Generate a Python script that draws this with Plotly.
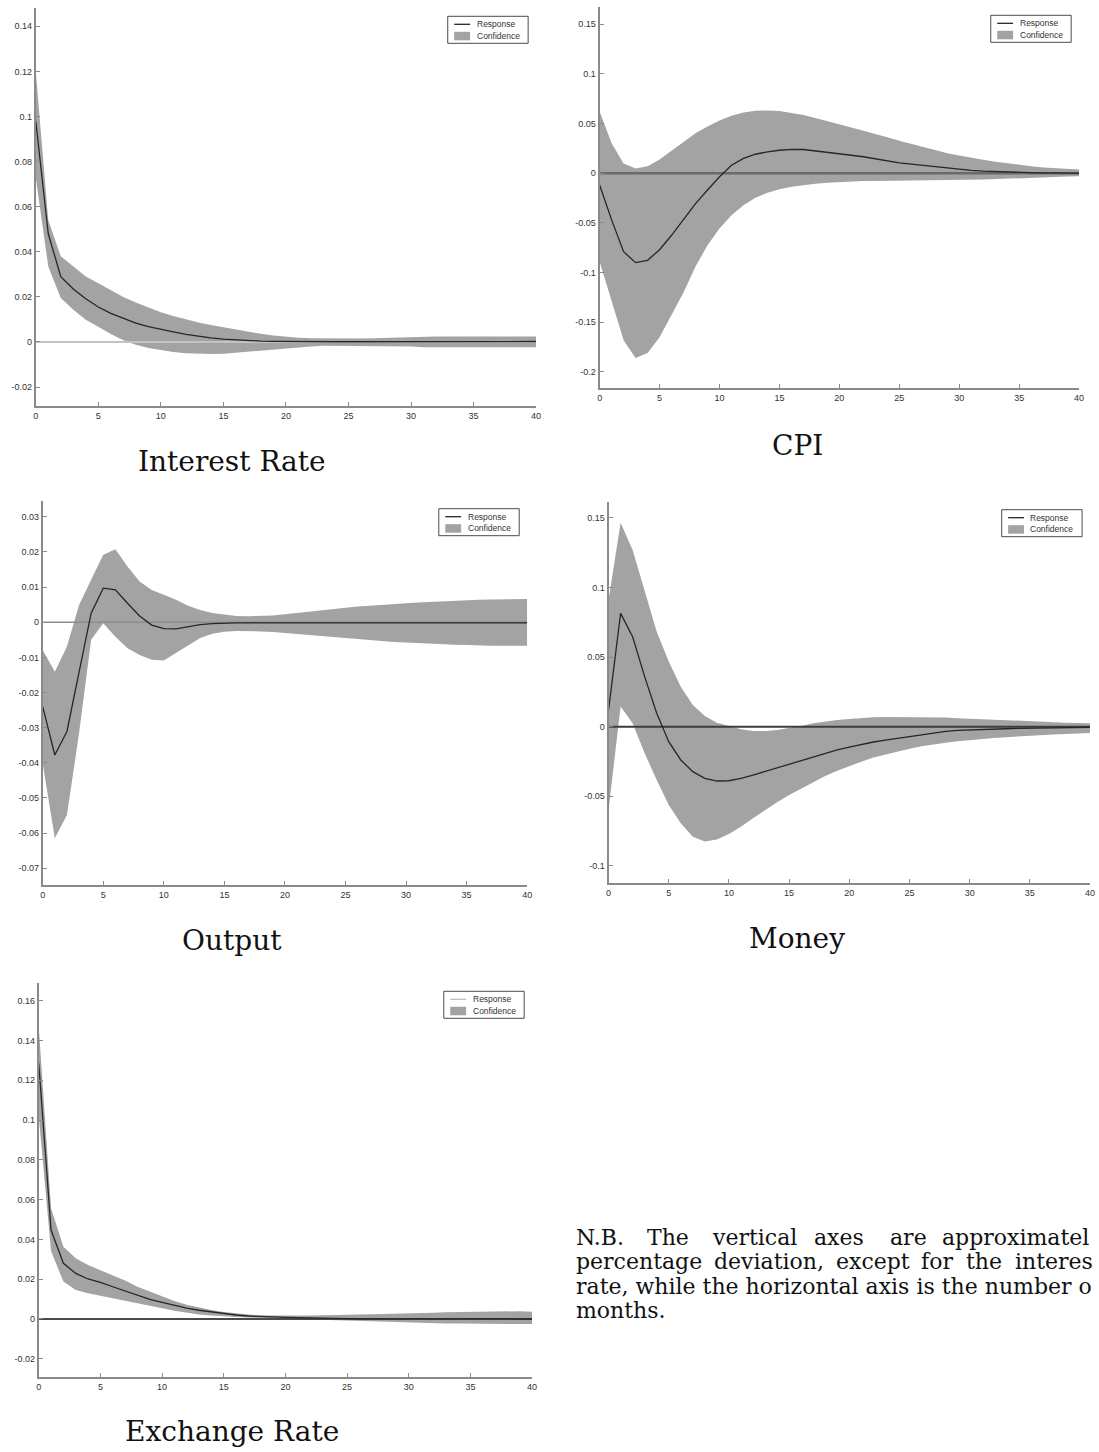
import plotly.graph_objects as go

W, H = 1099, 1452

# ---------------- data ----------------
months = list(range(41))
x_tick_vals = [0, 5, 10, 15, 20, 25, 30, 35, 40]
x_tick_text = ["0", "5", "10", "15", "20", "25", "30", "35", "40"]

# Interest Rate
ir_resp = [0.098, 0.048, 0.029, 0.0235, 0.0192, 0.0155, 0.0127, 0.0104, 0.0084, 0.0068,
           0.0058, 0.0045, 0.0034, 0.0025, 0.0018, 0.0013, 0.0009, 0.0006, 0.0004, 0.0003,
           0.0002, 0.0001, 0.0001, 0.0001, 0.0001, 0.0001, 0.0001, 0.0001, 0.0001, 0.0001,
           0.0002, 0.0002, 0.0002, 0.0002, 0.0002, 0.0002, 0.0002, 0.0002, 0.0002, 0.0002, 0.0002]
ir_upper = [0.120, 0.054, 0.038, 0.0335, 0.029, 0.026, 0.023, 0.020, 0.0175, 0.0152,
            0.0132, 0.0115, 0.0099, 0.0086, 0.0075, 0.0065, 0.0055, 0.0045, 0.0036, 0.0029,
            0.0023, 0.0019, 0.0016, 0.0015, 0.0015, 0.0015, 0.0015, 0.0016, 0.0018, 0.0019,
            0.0021, 0.0024, 0.0024, 0.0024, 0.0024, 0.0024, 0.0024, 0.0024, 0.0024, 0.0024, 0.0024]
ir_lower = [0.073, 0.0335, 0.0195, 0.0143, 0.0099, 0.0068, 0.0035, 0.0008, -0.0012, -0.0027,
            -0.0037, -0.0045, -0.005, -0.0052, -0.0053, -0.0052, -0.0047, -0.0042, -0.0037, -0.0033,
            -0.003, -0.0025, -0.002, -0.0017, -0.0017, -0.0017, -0.0017, -0.0017, -0.0018, -0.0018,
            -0.002, -0.0023, -0.0023, -0.0023, -0.0023, -0.0023, -0.0023, -0.0023, -0.0023, -0.0023, -0.0023]
ir_y_ticks = [-0.02, 0, 0.02, 0.04, 0.06, 0.08, 0.1, 0.12, 0.14]
ir_y_text = ["-0.02", "0", "0.02", "0.04", "0.06", "0.08", "0.1", "0.12", "0.14"]

# CPI
cpi_resp = [-0.012, -0.047, -0.079, -0.090, -0.0877, -0.077, -0.0625, -0.047, -0.0306, -0.017,
            -0.0037, 0.008, 0.0148, 0.019, 0.0215, 0.023, 0.024, 0.0238, 0.0225, 0.021,
            0.0195, 0.018, 0.0165, 0.0144, 0.0124, 0.0104, 0.009, 0.0077, 0.006, 0.0047,
            0.0037, 0.0027, 0.002, 0.0015, 0.001, 0.0007, 0.0005, 0.0003, 0.0002, 0.0001, 0.0]
cpi_upper = [0.062, 0.030, 0.0097, 0.0047, 0.007, 0.0138, 0.0225, 0.0316, 0.040, 0.047,
             0.053, 0.0578, 0.061, 0.0628, 0.0631, 0.0625, 0.0608, 0.0584, 0.0554, 0.0524,
             0.049, 0.046, 0.0426, 0.0396, 0.036, 0.0326, 0.0292, 0.0262, 0.0232, 0.0201,
             0.0178, 0.0154, 0.0134, 0.0114, 0.0097, 0.008, 0.007, 0.0057, 0.005, 0.004, 0.0037]
cpi_lower = [-0.089, -0.128, -0.168, -0.186, -0.181, -0.165, -0.143, -0.120, -0.094, -0.0725,
             -0.0557, -0.0423, -0.0322, -0.0248, -0.0198, -0.0161, -0.0138, -0.0121, -0.0107, -0.0097,
             -0.009, -0.0084, -0.008, -0.0078, -0.0077, -0.0077, -0.0076, -0.0075, -0.0074, -0.0072,
             -0.007, -0.0067, -0.0064, -0.006, -0.0057, -0.0052, -0.0047, -0.0043, -0.004, -0.0035, -0.003]
cpi_y_ticks = [-0.2, -0.15, -0.1, -0.05, 0, 0.05, 0.1, 0.15]
cpi_y_text = ["-0.2", "-0.15", "-0.1", "-0.05", "0", "0.05", "0.1", "0.15"]

# Output
out_resp = [-0.024, -0.0378, -0.0311, -0.0145, 0.0026, 0.0097, 0.0092, 0.0054, 0.0018, -0.0008,
            -0.0018, -0.0019, -0.0012, -0.0007, -0.0004, -0.0002, -0.0002, -0.0002, -0.0002, -0.0002,
            -0.0002, -0.0002, -0.0002, -0.0002, -0.0002, -0.0002, -0.0002, -0.0002, -0.0002, -0.0002,
            -0.0002, -0.0002, -0.0002, -0.0002, -0.0002, -0.0002, -0.0002, -0.0002, -0.0002, -0.0002, -0.0002]
out_upper = [-0.0079, -0.0141, -0.0069, 0.0049, 0.0121, 0.0192, 0.0208, 0.0159, 0.0116, 0.0092,
             0.0078, 0.0064, 0.0047, 0.0035, 0.0026, 0.0021, 0.0018, 0.0017, 0.0017, 0.0019,
             0.0023, 0.0027, 0.003, 0.0034, 0.0038, 0.0041, 0.0045, 0.0047, 0.005, 0.0052,
             0.0054, 0.0056, 0.0058, 0.0059, 0.006, 0.0062, 0.0064, 0.0065, 0.0066, 0.0066, 0.0066]
out_lower = [-0.0402, -0.0615, -0.0549, -0.0316, -0.005, -0.0003, -0.0041, -0.0074, -0.0093, -0.0107,
             -0.0109, -0.0088, -0.0065, -0.0045, -0.0033, -0.0027, -0.0025, -0.0025, -0.0026, -0.0028,
             -0.0031, -0.0034, -0.0037, -0.004, -0.0043, -0.0046, -0.0048, -0.0051, -0.0053, -0.0056,
             -0.0058, -0.006, -0.0061, -0.0063, -0.0064, -0.0065, -0.0067, -0.0067, -0.0067, -0.0067, -0.0067]
out_y_ticks = [-0.07, -0.06, -0.05, -0.04, -0.03, -0.02, -0.01, 0, 0.01, 0.02, 0.03]
out_y_text = ["-0.07", "-0.06", "-0.05", "-0.04", "-0.03", "-0.02", "-0.01", "0", "0.01", "0.02", "0.03"]

# Money
m_resp = [0.012, 0.0813, 0.0646, 0.0359, 0.0096, -0.0108, -0.0239, -0.0323, -0.0371, -0.039,
          -0.0388, -0.0371, -0.0347, -0.0321, -0.0294, -0.0268, -0.0242, -0.0215, -0.0191, -0.0167,
          -0.0146, -0.0127, -0.011, -0.0096, -0.0084, -0.0069, -0.0055, -0.0043, -0.0033, -0.0026,
          -0.0022, -0.002, -0.0017, -0.0015, -0.0012, -0.0011, -0.001, -0.0008, -0.0007, -0.0006, -0.0005]
m_upper = [0.091, 0.1464, 0.1268, 0.0981, 0.0682, 0.0467, 0.0287, 0.0156, 0.0077, 0.0029,
           0.0005, -0.0019, -0.0031, -0.0031, -0.0024, -0.0012, 0.0005, 0.0024, 0.0038, 0.0048,
           0.0055, 0.0062, 0.0067, 0.0069, 0.0069, 0.0069, 0.0069, 0.0067, 0.0065, 0.0061,
           0.0057, 0.0054, 0.005, 0.0045, 0.0041, 0.0037, 0.0033, 0.0031, 0.0029, 0.0027, 0.0024]
m_lower = [-0.0598, 0.0144, 0.0024, -0.0191, -0.0383, -0.0562, -0.0694, -0.079, -0.0825, -0.0809,
           -0.077, -0.0718, -0.0658, -0.0598, -0.0543, -0.049, -0.0443, -0.0395, -0.0354, -0.0316,
           -0.0282, -0.0251, -0.0222, -0.0199, -0.0177, -0.0158, -0.0141, -0.0127, -0.0115, -0.0105,
           -0.0096, -0.0088, -0.0081, -0.0075, -0.0069, -0.0064, -0.006, -0.0056, -0.0053, -0.0049, -0.0045]
m_y_ticks = [-0.1, -0.05, 0, 0.05, 0.1, 0.15]
m_y_text = ["-0.1", "-0.05", "0", "0.05", "0.1", "0.15"]

# Exchange Rate
ex_resp = [0.1285, 0.0447, 0.028, 0.0229, 0.0201, 0.0184, 0.0162, 0.0141, 0.0117, 0.0099,
           0.0084, 0.0069, 0.0055, 0.0044, 0.0035, 0.0027, 0.002, 0.0015, 0.0012, 0.001,
           0.0008, 0.0007, 0.0005, 0.0004, 0.0003, 0.0002, 0.0001, 0.0001, 0.0, 0.0,
           0.0, 0.0, 0.0, 0.0, 0.0, 0.0, 0.0, 0.0, 0.0, 0.0, 0.0]
ex_upper = [0.147, 0.0556, 0.0363, 0.0305, 0.0271, 0.0246, 0.0221, 0.0193, 0.0162, 0.0137,
            0.0112, 0.009, 0.0072, 0.0057, 0.0045, 0.0035, 0.0027, 0.0022, 0.0018, 0.0017,
            0.0017, 0.0017, 0.0018, 0.002, 0.0022, 0.0023, 0.0023, 0.0024, 0.0025, 0.0026,
            0.0028, 0.003, 0.0032, 0.0034, 0.0035, 0.0037, 0.0039, 0.004, 0.004, 0.0039, 0.0037]
ex_lower = [0.102, 0.034, 0.0188, 0.0146, 0.0129, 0.0116, 0.0104, 0.0092, 0.0079, 0.0065,
            0.0054, 0.0042, 0.0032, 0.0023, 0.0018, 0.0013, 0.001, 0.0007, 0.0005, 0.0003,
            0.0002, 0.0, -0.0002, -0.0003, -0.0005, -0.0006, -0.0008, -0.001, -0.0013, -0.0015,
            -0.0018, -0.002, -0.0022, -0.0023, -0.0023, -0.0024, -0.0025, -0.0025, -0.0025, -0.0025, -0.0025]
ex_y_ticks = [-0.02, 0, 0.02, 0.04, 0.06, 0.08, 0.1, 0.12, 0.14, 0.16]
ex_y_text = ["-0.02", "0", "0.02", "0.04", "0.06", "0.08", "0.1", "0.12", "0.14", "0.16"]

zero_x = [0, 40]
zero_y = [0, 0]

captions = ["Interest Rate", "CPI", "Output", "Money", "Exchange Rate"]
legend_labels = ["Response", "Confidence"]
# note text exactly as visible (the source crop cuts the right edge)
note_line1 = ["N.B.", "The", "vertical", "axes", "are", "approximatel"]
note_line2 = ["percentage", "deviation,", "except", "for", "the", "interes"]
note_line3 = "rate, while the horizontal axis is the number o"
note_line4 = "months."

# ---------------- layout helpers ----------------
def xp(px):
    return px / W

def yp(py):
    return 1 - py / H

BAND = "#a3a3a3"
RESP = "#262626"
AXIS = "#8a8a8a"
TICKFONT = dict(family="Liberation Sans, Arial, sans-serif", size=9, color="#333333")

panels = [
    dict(resp=ir_resp, hi=ir_upper, lo=ir_lower, yr=[-0.0284, 0.148], yt=ir_y_ticks, ytt=ir_y_text,
         px=(33, 537), py=(8.3, 406), zc="#c2c2c2", zw=2, cap=(231, 462), lc=RESP),
    dict(resp=cpi_resp, hi=cpi_upper, lo=cpi_lower, yr=[-0.2164, 0.1668], yt=cpi_y_ticks, ytt=cpi_y_text,
         px=(601, 1084), py=(7.3, 388.3), zc="#6a6a6a", zw=2.5, cap=(800, 445), lc=RESP),
    dict(resp=out_resp, hi=out_upper, lo=out_lower, yr=[-0.0748, 0.0346], yt=out_y_ticks, ytt=out_y_text,
         px=(40, 528), py=(500.7, 885), zc="#8c8c8c", zw=1.5, cap=(231, 940), lc=RESP),
    dict(resp=m_resp, hi=m_upper, lo=m_lower, yr=[-0.112, 0.1615], yt=m_y_ticks, ytt=m_y_text,
         px=(610, 1095), py=(501.7, 882.7), zc="#3c3c3c", zw=2, cap=(800, 938), lc=RESP),
    dict(resp=ex_resp, hi=ex_upper, lo=ex_lower, yr=[-0.029, 0.1687], yt=ex_y_ticks, ytt=ex_y_text,
         px=(36, 533), py=(983.3, 1376.7), zc="#4a4a4a", zw=2, cap=(231, 1431), lc="#bdbdbd"),
]

fig = go.Figure()
layout = dict(width=W, height=H, margin=dict(l=0, r=0, t=0, b=0),
              paper_bgcolor="white", plot_bgcolor="white", showlegend=False)
shapes = []
annotations = []

for i, p in enumerate(panels, start=1):
    xa = "x" if i == 1 else f"x{i}"
    ya = "y" if i == 1 else f"y{i}"
    # confidence band
    fig.add_trace(go.Scatter(x=months, y=p["lo"], mode="lines", line=dict(width=0, color=BAND),
                             xaxis=xa, yaxis=ya, hoverinfo="skip"))
    fig.add_trace(go.Scatter(x=months, y=p["hi"], mode="lines", line=dict(width=0, color=BAND),
                             fill="tonexty", fillcolor=BAND, xaxis=xa, yaxis=ya, hoverinfo="skip"))
    # zero line
    fig.add_trace(go.Scatter(x=zero_x, y=zero_y, mode="lines", line=dict(width=p["zw"], color=p["zc"]),
                             xaxis=xa, yaxis=ya, hoverinfo="skip"))
    # response
    fig.add_trace(go.Scatter(x=months, y=p["resp"], mode="lines", line=dict(width=1.3, color=RESP),
                             xaxis=xa, yaxis=ya))

    kx = "xaxis" if i == 1 else f"xaxis{i}"
    ky = "yaxis" if i == 1 else f"yaxis{i}"
    layout[kx] = dict(domain=[xp(p["px"][0]), xp(p["px"][1])], anchor=ya, range=[0, 40],
                      tickvals=x_tick_vals, ticktext=x_tick_text, ticks="inside", ticklen=4,
                      tickcolor=AXIS, tickwidth=1, showline=True, linecolor=AXIS, linewidth=2,
                      showgrid=False, zeroline=False, tickfont=TICKFONT, fixedrange=True)
    layout[ky] = dict(domain=[yp(p["py"][1]), yp(p["py"][0])], anchor=xa, range=p["yr"],
                      tickvals=p["yt"], ticktext=p["ytt"], ticks="inside", ticklen=4,
                      tickcolor=AXIS, tickwidth=1, showline=True, linecolor=AXIS, linewidth=2,
                      showgrid=False, zeroline=False, tickfont=TICKFONT, fixedrange=True)

    # legend box (top-right of each panel)
    bx1 = p["px"][1] - 8
    bx0 = bx1 - 81
    by0 = p["py"][0] + 8
    by1 = by0 + 27
    shapes.append(dict(type="rect", xref="paper", yref="paper", x0=xp(bx0), x1=xp(bx1),
                       y0=yp(by1), y1=yp(by0), line=dict(color="#4a4a4a", width=1),
                       fillcolor="white", layer="above"))
    shapes.append(dict(type="line", xref="paper", yref="paper", x0=xp(bx0 + 6.5), x1=xp(bx0 + 22.5),
                       y0=yp(by0 + 8), y1=yp(by0 + 8), line=dict(color=p["lc"], width=1.3),
                       layer="above"))
    shapes.append(dict(type="rect", xref="paper", yref="paper", x0=xp(bx0 + 6.5), x1=xp(bx0 + 22.5),
                       y0=yp(by0 + 24), y1=yp(by0 + 15.5), line=dict(width=0),
                       fillcolor=BAND, layer="above"))
    for lab, dy in zip(legend_labels, [8, 19.5]):
        annotations.append(dict(text=lab, xref="paper", yref="paper", x=xp(bx0 + 27), y=yp(by0 + dy),
                                xanchor="left", yanchor="middle", showarrow=False,
                                font=dict(family="Liberation Sans, Arial, sans-serif", size=8.5,
                                          color="#333333")))
    # caption
    annotations.append(dict(text=captions[i - 1], xref="paper", yref="paper",
                            x=xp(p["cap"][0]), y=yp(p["cap"][1]), xanchor="center", yanchor="middle",
                            showarrow=False,
                            font=dict(family="DejaVu Serif, Liberation Serif, serif", size=28,
                                      color="#111111")))

# note text (justified first two lines, word by word)
NOTE_FONT = dict(family="DejaVu Serif, Liberation Serif, serif", size=22, color="#111111")
line1_x = [575, 647, 712, 815, 891, 944]
line2_x = [575, 714, 837, 923, 968, 1017]
for words, xs, ypx in [(note_line1, line1_x, 1237), (note_line2, line2_x, 1261.5)]:
    for w, xx in zip(words, xs):
        annotations.append(dict(text=w, xref="paper", yref="paper", x=xp(xx), y=yp(ypx),
                                xanchor="left", yanchor="middle", showarrow=False, font=NOTE_FONT))
for txt, ypx in [(note_line3, 1286), (note_line4, 1310.5)]:
    annotations.append(dict(text=txt, xref="paper", yref="paper", x=xp(575), y=yp(ypx),
                            xanchor="left", yanchor="middle", showarrow=False, font=NOTE_FONT))

layout["shapes"] = shapes
layout["annotations"] = annotations
fig.update_layout(**layout)

fig.write_html("out.html", config={"displayModeBar": False},
               post_script="document.body.style.margin='0';")
